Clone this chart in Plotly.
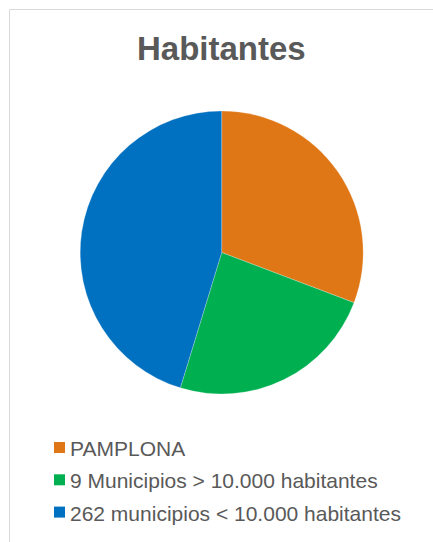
import plotly.graph_objects as go

# Población por grupo de municipios
labels = ["PAMPLONA", "9 Municipios > 10.000 habitantes", "262 municipios < 10.000 habitantes"]
values = [199066, 155000, 293000]
colors = ["#E07716", "#00B050", "#0070C0"]

W, H = 433, 542


def px_x(x):
    return x / W


def px_y(y):
    return 1 - y / H


fig = go.Figure(
    go.Pie(
        labels=labels,
        values=values,
        sort=False,
        direction="clockwise",
        rotation=0,
        textinfo="none",
        hoverinfo="label+value+percent",
        marker=dict(colors=colors, line=dict(color="rgba(255,255,255,0.6)", width=0.4)),
        domain=dict(x=[px_x(80.2), px_x(363.2)], y=[px_y(394), px_y(111)]),
        showlegend=False,
    )
)

shapes = [
    # marco del gráfico
    dict(
        type="rect", xref="paper", yref="paper",
        x0=px_x(9.5), x1=px_x(W + 20), y0=px_y(H + 20), y1=px_y(9.5),
        line=dict(color="#D9D9D9", width=1), fillcolor="rgba(0,0,0,0)",
    )
]
annotations = [
    dict(
        text="<b>Habitantes</b>", xref="paper", yref="paper",
        x=px_x(221), y=px_y(48.5), xanchor="center", yanchor="middle",
        showarrow=False,
        font=dict(family="Liberation Sans, Arial, sans-serif", size=33, color="#595959"),
    )
]

# leyenda
row0, step = 447.5, 32.3
for i, (lab, col) in enumerate(zip(labels, colors)):
    cy = row0 + i * step
    shapes.append(
        dict(
            type="rect", xref="paper", yref="paper",
            x0=px_x(54), x1=px_x(65), y0=px_y(cy + 5.5), y1=px_y(cy - 5.5),
            line=dict(width=0), fillcolor=col,
        )
    )
    annotations.append(
        dict(
            text=lab, xref="paper", yref="paper",
            x=px_x(67.5), y=px_y(cy + 1), xanchor="left", yanchor="middle",
            showarrow=False,
            font=dict(family="Liberation Sans, Arial, sans-serif", size=21, color="#595959"),
        )
    )

fig.update_layout(
    width=W,
    height=H,
    margin=dict(l=0, r=0, t=0, b=0),
    paper_bgcolor="white",
    plot_bgcolor="white",
    shapes=shapes,
    annotations=annotations,
)

fig.write_html("out.html")
